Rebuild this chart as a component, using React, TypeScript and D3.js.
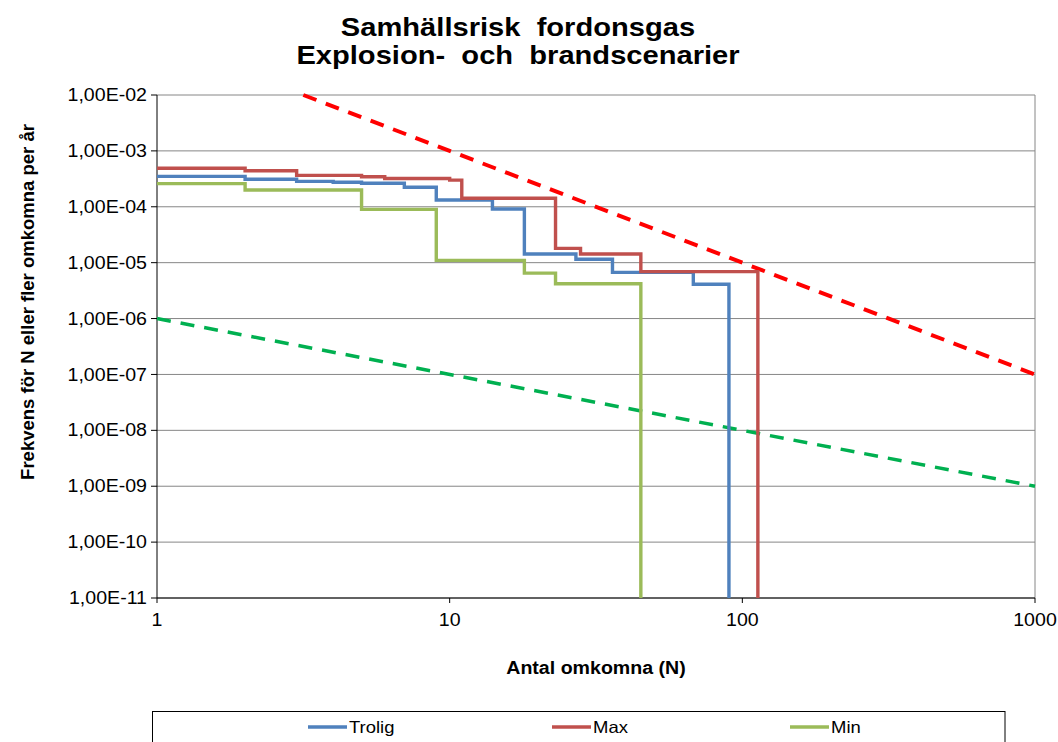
import React from 'react';
import * as d3 from 'd3';

// steg-kurvor, [N, F] där F gäller från N och uppåt till nästa punkt
const trolig: [number, number][] = [[1, 3.5e-4], [2, 3.1e-4], [3, 2.85e-4], [4, 2.75e-4], [5, 2.63e-4], [7, 2.23e-4], [9, 1.32e-4], [14, 9.1e-5], [18, 1.43e-5], [27, 1.15e-5], [36, 6.7e-6], [68, 4.1e-6]];
const trolEnd = 90;
const maxS: [number, number][] = [[1, 4.9e-4], [2, 4.4e-4], [3, 3.65e-4], [5, 3.45e-4], [6, 3.2e-4], [10, 3.0e-4], [11, 1.42e-4], [23, 1.8e-5], [28, 1.43e-5], [45, 6.9e-6]];
const maxEnd = 113;
const minS: [number, number][] = [[1, 2.6e-4], [2, 2.0e-4], [5, 9.0e-5], [9, 1.1e-5], [18, 6.5e-6], [23, 4.2e-6]];
const minEnd = 45;

// acceptanskriterier
const upperLimit: [number, number][] = [[3.162, 1e-2], [1000, 1e-7]];
const lowerLimit: [number, number][] = [[1, 1e-6], [1000, 1e-9]];

const yTicks = [1e-2, 1e-3, 1e-4, 1e-5, 1e-6, 1e-7, 1e-8, 1e-9, 1e-10, 1e-11];
const xTicks = [1, 10, 100, 1000];
const legendNames = ['Trolig', 'Max', 'Min'];

const W = 1058, H = 742;
const SX = 1.12; // texten i originalet är något utdragen i x-led

function fmt(v: number) {
  const e = Math.round(Math.log10(v));
  const s = e < 0 ? '-' : '+';
  return '1,00E' + s + String(Math.abs(e)).padStart(2, '0');
}

function T(props: { x: number; y: number; children: React.ReactNode; [k: string]: any }) {
  const { x, y, children, ...rest } = props;
  return <text transform={`translate(${x},${y}) scale(${SX},1)`} {...rest}>{children}</text>;
}

export default function App() {
  const x = d3.scaleLog().domain([1, 1000]).range([157, 1035]);
  const y = d3.scaleLog().domain([1e-11, 1e-2]).range([598, 95]);

  const step = d3.line<[number, number]>()
    .x(d => x(d[0]))
    .y(d => y(d[1]))
    .curve(d3.curveStepAfter);
  const straight = d3.line<[number, number]>().x(d => x(d[0])).y(d => y(d[1]));

  const withDrop = (s: [number, number][], end: number): [number, number][] =>
    [...s, [end, s[s.length - 1][1]], [end, 1e-11]];

  const series = [
    { name: legendNames[0], data: withDrop(trolig, trolEnd), color: '#4F81BD' },
    { name: legendNames[1], data: withDrop(maxS, maxEnd), color: '#C0504D' },
    { name: legendNames[2], data: withDrop(minS, minEnd), color: '#9BBB59' },
  ];

  const legendX = [308, 552, 790];

  return (
    <svg width={W} height={H} style={{ position: 'absolute', left: 0, top: 0, background: '#fff' }}
      fontFamily="'Liberation Sans', Arial, sans-serif">
      <T x={518} y={36} textAnchor="middle" fontSize={26} fontWeight="bold" style={{ whiteSpace: 'pre' }}>Samhällsrisk  fordonsgas</T>
      <T x={518} y={64} textAnchor="middle" fontSize={26} fontWeight="bold" style={{ whiteSpace: 'pre' }}>Explosion-  och  brandscenarier</T>

      {/* rutnät */}
      {yTicks.map(t => (
        <line key={t} x1={x(1)} x2={x(1000)} y1={y(t)} y2={y(t)} stroke="#868686" strokeWidth={1} />
      ))}
      <line x1={x(1000)} x2={x(1000)} y1={y(1e-2)} y2={y(1e-11)} stroke="#868686" strokeWidth={1} />

      {/* axlar */}
      <line x1={x(1)} x2={x(1)} y1={y(1e-2)} y2={y(1e-11)} stroke="#000" strokeWidth={1} />
      <line x1={x(1)} x2={x(1000)} y1={y(1e-11)} y2={y(1e-11)} stroke="#000" strokeWidth={1} />
      {yTicks.map(t => (
        <g key={'yt' + t}>
          <line x1={x(1) - 6} x2={x(1)} y1={y(t)} y2={y(t)} stroke="#000" />
          <T x={147} y={y(t)} dy="0.35em" textAnchor="end" fontSize={17.5}>{fmt(t)}</T>
        </g>
      ))}
      {xTicks.map(t => (
        <g key={'xt' + t}>
          <line x1={x(t)} x2={x(t)} y1={y(1e-11)} y2={y(1e-11) + 5} stroke="#000" />
          <T x={x(t)} y={626} textAnchor="middle" fontSize={17.5}>{t}</T>
        </g>
      ))}

      <T x={596} y={674} textAnchor="middle" fontSize={17.5} fontWeight="bold">Antal omkomna (N)</T>
      <text transform={`translate(34,302) rotate(-90)`} textAnchor="middle" fontSize={18.5} fontWeight="bold">Frekvens för N eller fler omkomna per år</text>

      {/* kriterielinjer */}
      <path d={straight(upperLimit) ?? ''} fill="none" stroke="#FF0000" strokeWidth={4} strokeDasharray="14 10" />
      <path d={straight(lowerLimit) ?? ''} fill="none" stroke="#00B050" strokeWidth={3.5} strokeDasharray="14 10" />

      {series.map(s => (
        <path key={s.name} d={step(s.data) ?? ''} fill="none" stroke={s.color} strokeWidth={3.4} />
      ))}

      {/* legend */}
      <rect x={152.5} y={711.5} width={852.5} height={60} fill="#fff" stroke="#000" strokeWidth={1} />
      {series.map((s, i) => (
        <g key={'lg' + s.name}>
          <line x1={legendX[i]} x2={legendX[i] + 39} y1={727} y2={727} stroke={s.color} strokeWidth={3.5} />
          <T x={legendX[i] + 41} y={727} dy="0.35em" fontSize={16.5}>{s.name}</T>
        </g>
      ))}
    </svg>
  );
}
